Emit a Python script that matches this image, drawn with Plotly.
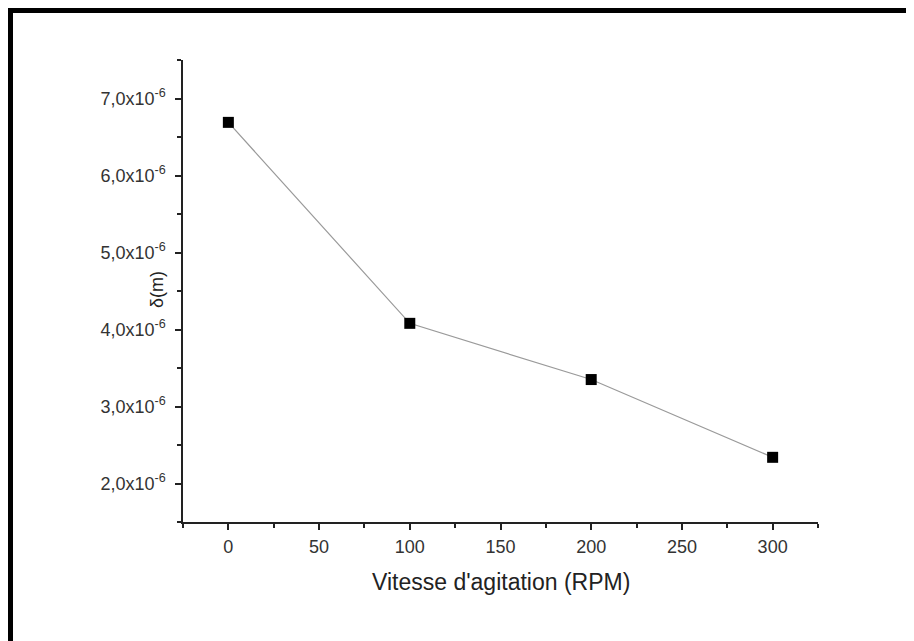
import plotly.graph_objects as go

# Data
speed_rpm = [0, 100, 200, 300]
delta_m = [6.69e-6, 4.08e-6, 3.35e-6, 2.34e-6]

y_tick_vals = [2e-6, 3e-6, 4e-6, 5e-6, 6e-6, 7e-6]
y_tick_text = ["2,0x10<sup>-6</sup>", "3,0x10<sup>-6</sup>", "4,0x10<sup>-6</sup>",
               "5,0x10<sup>-6</sup>", "6,0x10<sup>-6</sup>", "7,0x10<sup>-6</sup>"]
y_minor_vals = [1.5e-6, 2.5e-6, 3.5e-6, 4.5e-6, 5.5e-6, 6.5e-6, 7.5e-6]
x_tick_vals = [0, 50, 100, 150, 200, 250, 300]
x_minor_vals = [-25, 25, 75, 125, 175, 225, 275, 325]

# page body has an 8px margin: figure is drawn at (8, 8)
OFF = 8
W, H = 906, 633
ML, MR, MT, MB = 175, 96, 52, 119
pw, ph = W - ML - MR, H - MT - MB


def px(sx):
    return (sx - OFF - ML) / pw


def py(sy):
    return (H - MB - (sy - OFF)) / ph


fig = go.Figure()
fig.add_trace(go.Scatter(
    x=speed_rpm, y=delta_m, mode="lines+markers",
    line=dict(color="#9a9a9a", width=1.2),
    marker=dict(symbol="square", size=11, color="black"),
    showlegend=False,
))

axis_col = "#222222"
font_fam = "Liberation Sans, Arial, sans-serif"

fig.update_layout(
    width=W, height=H,
    margin=dict(l=ML, r=MR, t=MT, b=MB),
    paper_bgcolor="white", plot_bgcolor="white",
    font=dict(family=font_fam, color="#333333", size=18),
    xaxis=dict(
        range=[-25, 325], showgrid=False, zeroline=False,
        showline=True, linecolor=axis_col, linewidth=1.5,
        ticks="outside", ticklen=6, tickwidth=1.5, tickcolor=axis_col,
        tickmode="array", tickvals=x_tick_vals,
        tickfont=dict(size=18, color="#333333"),
        ticklabelstandoff=2,
        minor=dict(tickmode="array", tickvals=x_minor_vals, ticks="outside",
                   ticklen=4, tickwidth=1.5, tickcolor=axis_col),
    ),
    yaxis=dict(
        range=[1.5e-6, 7.5e-6], showgrid=False, zeroline=False,
        showline=True, linecolor=axis_col, linewidth=1.5,
        ticks="outside", ticklen=6, tickwidth=1.5, tickcolor=axis_col,
        tickmode="array", tickvals=y_tick_vals, ticktext=y_tick_text,
        tickfont=dict(size=18, color="#333333"),
        ticklabelstandoff=6,
        minor=dict(tickmode="array", tickvals=y_minor_vals, ticks="outside",
                   ticklen=4, tickwidth=1.5, tickcolor=axis_col),
    ),
    annotations=[
        dict(text="δ(m)", xref="paper", yref="paper",
             x=px(157), y=py(290),
             xanchor="center", yanchor="middle", textangle=-90, showarrow=False,
             font=dict(size=18, color="#222222")),
        dict(text="Vitesse d'agitation (RPM)", xref="paper", yref="paper",
             x=px(501), y=py(582),
             xanchor="center", yanchor="middle", showarrow=False,
             font=dict(size=23, color="#222222")),
    ],
    shapes=[
        dict(type="line", xref="paper", yref="paper",
             x0=px(8), x1=px(914 + 10),
             y0=py(10.5), y1=py(10.5),
             line=dict(color="black", width=5)),
        dict(type="line", xref="paper", yref="paper",
             x0=px(10.5), x1=px(10.5),
             y0=py(8), y1=py(660),
             line=dict(color="black", width=5)),
    ],
)

fig.write_html("out.html")
